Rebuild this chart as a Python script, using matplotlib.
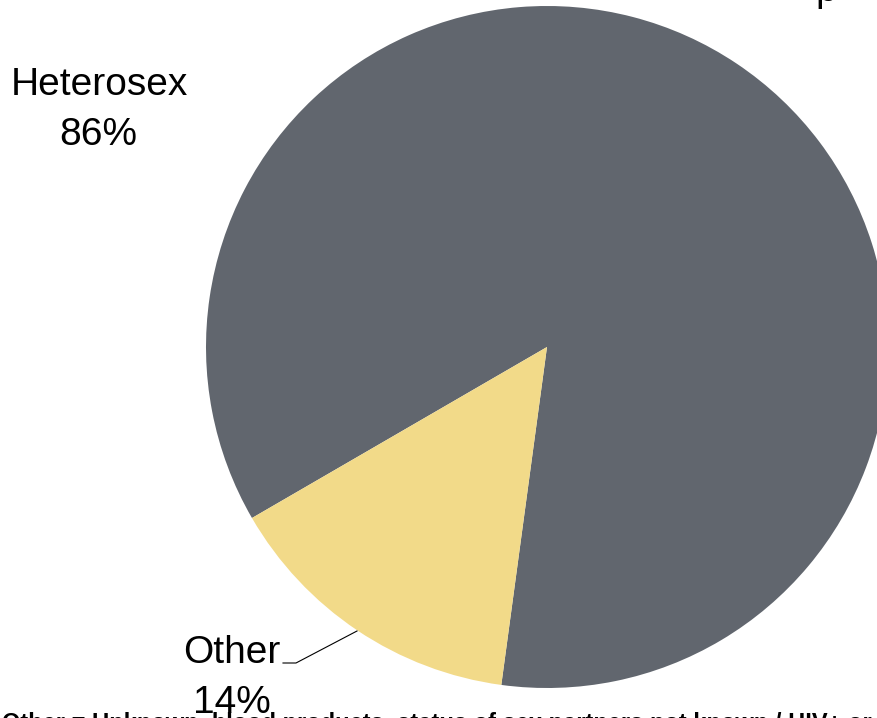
import matplotlib
matplotlib.use("Agg")
import matplotlib.pyplot as plt

FONT = "Liberation Sans"

categories = ["Heterosex", "Other"]
values = [85.5, 14.5]
pct_labels = ["86%", "14%"]
colors = ["#61666e", "#f2da89"]
footnote = "Other = Unknown, blood products, status of sex partners not known / HIV+ or HIV risk partner"

W, H = 877, 718
fig = plt.figure(figsize=(W / 100, H / 100), dpi=100)
cx, cy, r = 547, 347, 341
ax = fig.add_axes([(cx - r) / W, (H - cy - r) / H, 2 * r / W, 2 * r / H])
ax.pie(values, colors=colors, startangle=262.3, counterclock=True, radius=1,
       wedgeprops=dict(linewidth=0))
ax.set_xlim(-1, 1)
ax.set_ylim(-1, 1)
ax.set_aspect("equal")
ax.axis("off")

def fx(px):
    return px / W

def fy(py):
    return 1 - py / H

FS = 28
# Heterosex label
fig.text(fx(99), fy(95), categories[0], ha="center", va="baseline", fontsize=FS, family=FONT)
fig.text(fx(98), fy(145), pct_labels[0], ha="center", va="baseline", fontsize=FS, family=FONT)
# Other label
fig.text(fx(232), fy(663), categories[1], ha="center", va="baseline", fontsize=FS, family=FONT)
fig.text(fx(232), fy(713), pct_labels[1], ha="center", va="baseline", fontsize=FS, family=FONT)
fig.add_artist(plt.Line2D([fx(283), fx(296), fx(357)], [fy(663), fy(663), fy(631)],
                          color="black", lw=0.8, transform=fig.transFigure))
# cut-off title remnant at top right
fig.text(fx(826), fy(1), "p", ha="center", va="baseline", fontsize=FS, family=FONT)
fig.text(fx(2), fy(712), footnote, ha="left", va="top", fontsize=17, family=FONT,
         fontweight="bold")

fig.savefig("out.png", dpi=100)
